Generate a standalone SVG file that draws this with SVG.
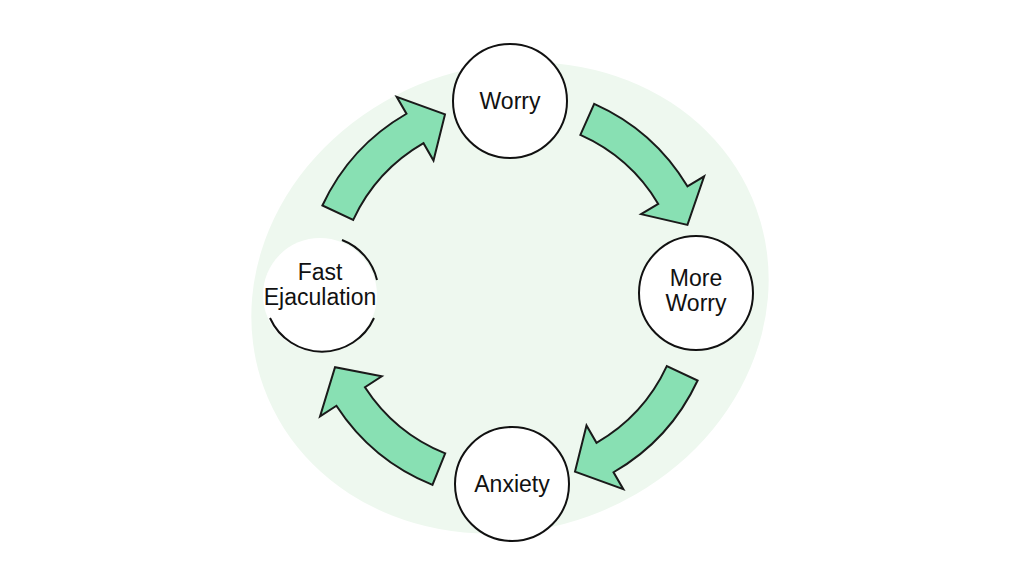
<svg xmlns="http://www.w3.org/2000/svg" width="1024" height="576" viewBox="0 0 1024 576">
<defs>
<style>
.n{fill:#fff;stroke:#111;stroke-width:2}
.a{fill:#88e0b3;stroke:#1a1a1a;stroke-width:2;stroke-linejoin:miter}
.t{font-family:"Liberation Sans",Arial,sans-serif;font-size:23px;fill:#111;text-anchor:middle}
</style>
<path id="arr" class="a" d="M207,0 A207,207 0 0 1 169.6,118.7 L185.6,129.9 L134.4,134.4 L125.3,87.7 L141.7,99.2 A173,173 0 0 0 173,0 Z"/>
</defs>
<rect width="1024" height="576" fill="#fff"/>
<ellipse cx="510" cy="298" rx="262" ry="232" transform="rotate(-20 510 298)" fill="#eef8ef"/>
<g id="connectors">
<use href="#arr" transform="translate(510,293) rotate(-66)"/>
<use href="#arr" transform="translate(510,293) rotate(25)"/>
<use href="#arr" transform="translate(510,293) rotate(112)"/>
<use href="#arr" transform="translate(510,293) rotate(205)"/>
</g>
<g id="worry"><circle class="n" cx="510" cy="101" r="57"/><text class="t" x="510" y="109">Worry</text></g>
<g id="more-worry"><circle class="n" cx="696" cy="293" r="57"/><text class="t" x="696" y="286">More</text><text class="t" x="696" y="311">Worry</text></g>
<g id="anxiety"><circle class="n" cx="512" cy="484" r="57"/><text class="t" x="512" y="492">Anxiety</text></g>
<g id="fast-ejaculation">
<circle cx="320" cy="295" r="57" fill="#fff"/>
<path d="M342,240 A57,57 0 0 1 377,280" fill="none" stroke="#111" stroke-width="2"/>
<path d="M270,318 A57,57 0 0 0 374,318" fill="none" stroke="#111" stroke-width="2"/>
<text class="t" x="320" y="280">Fast</text><text class="t" x="320" y="305">Ejaculation</text>
</g>
</svg>
